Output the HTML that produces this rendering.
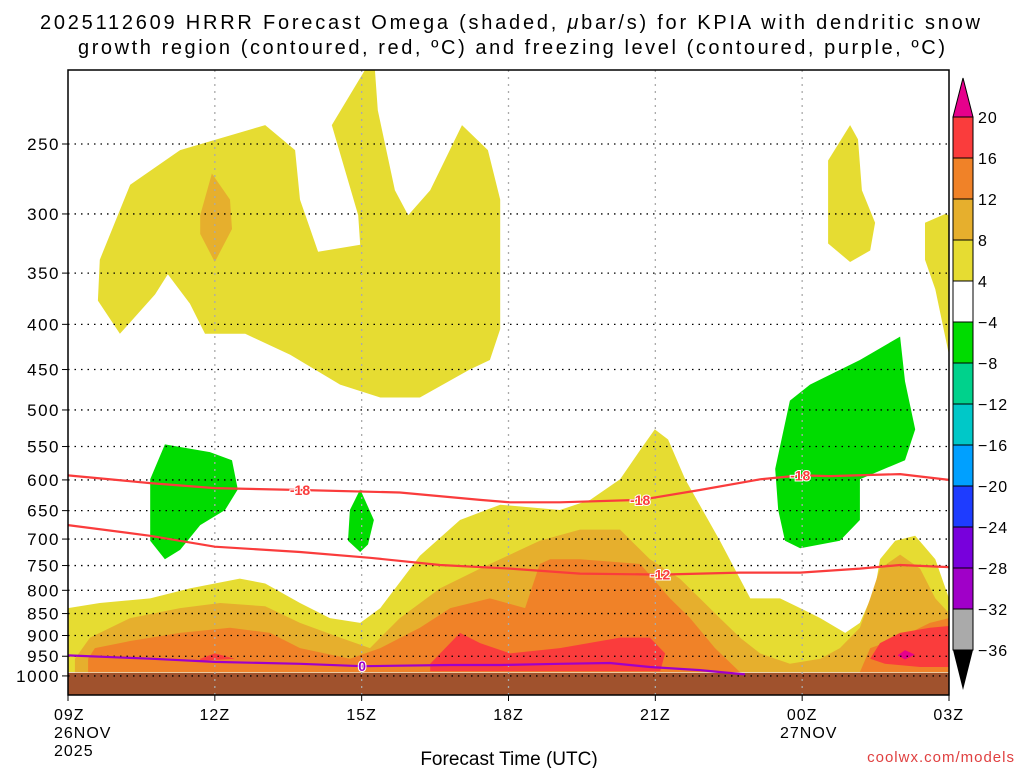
<!DOCTYPE html>
<html><head><meta charset="utf-8"><style>
body{margin:0;background:#fff;width:1024px;height:768px;overflow:hidden;font-family:"Liberation Sans",sans-serif}
svg{position:absolute;left:0;top:0}
</style></head><body>
<svg id="c" width="1024" height="768">
<text x="40" y="29" font-size="20" textLength="940" lengthAdjust="spacing">2025112609 HRRR Forecast Omega (shaded, <tspan font-style="italic">μ</tspan>bar/s) for KPIA with dendritic snow</text>
<text x="78" y="54" font-size="20" textLength="867" lengthAdjust="spacing">growth region (contoured, red, ºC) and freezing level (contoured, purple, ºC)</text>
<g id="shade"></g><g id="grid"></g><g id="lines"></g><g id="axes"></g><g id="cbar"></g>
<text x="509" y="765" text-anchor="middle" font-size="19">Forecast Time (UTC)</text>
<text x="1015" y="762" text-anchor="end" font-size="15" fill="#e04040" letter-spacing="1">coolwx.com/models</text>
</svg>
<script>
// axes: hours after 09Z 26NOV, pressure hPa (log)
const xTickLabels=["09Z","12Z","15Z","18Z","21Z","00Z","03Z"];
const xTickHours=[0,3,6,9,12,15,18];
const yTicks=[250,300,350,400,450,500,550,600,650,700,750,800,850,900,950,1000];
const cbarLabels=["20","16","12","8","4","\u22124","\u22128","\u221212","\u221216","\u221220","\u221224","\u221228","\u221232","\u221236"];
const cbarColors=["#fa3c3c","#f08228","#e6af2d","#e6dc32","#ffffff","#00dc00","#00d28c","#00c8c8","#00a0ff","#1e3cff","#7800dc","#a000c8","#aaaaaa"];
// shaded regions [hour, pressure]
const yellowUpper=[[0.61,376],[0.65,338],[1.27,278],[2.29,254],[4.03,238],[4.64,254],[4.74,289],[5.11,331],[5.97,325],[5.93,301],[5.39,238],[6.07,206],[6.27,206],[6.33,229],[6.68,282],[6.95,301],[7.40,282],[8.05,238],[8.58,254],[8.83,289],[8.83,405],[8.62,439],[8.21,450],[7.19,484],[6.38,484],[5.56,468],[4.54,433],[3.62,410],[2.80,410],[2.49,379],[2.04,351],[1.78,370],[1.06,410]];
const orangeUpper=[[2.70,301],[2.94,270],[3.31,289],[3.35,312],[3.00,340],[2.70,316]];
const yellowTR=[[15.53,261],[15.98,238],[16.14,247],[16.22,282],[16.49,307],[16.39,330],[15.98,340],[15.53,324]];
const yellowRE=[[17.51,307],[17.92,300],[18,301],[18,433],[17.72,365],[17.51,338]];
const greenL=[[1.68,599],[1.98,547],[2.90,558],[3.35,570],[3.47,615],[3.21,649],[2.70,675],[2.29,720],[1.98,738],[1.68,703]];
const greenM=[[5.97,615],[6.25,666],[6.13,710],[5.97,724],[5.72,703],[5.76,649]];
const greenR=[[14.45,583],[14.75,488],[15.16,468],[16.18,439],[17.00,413],[17.10,464],[17.31,526],[17.10,570],[16.18,599],[16.18,666],[15.77,703],[14.96,717],[14.65,703],[14.51,649]];
const yellowLow=[[0,838],[0.65,827],[1.68,817],[2.49,796],[3.51,776],[4.03,786],[4.74,827],[5.35,860],[5.97,871],[6.38,838],[7.19,731],[8.01,666],[8.83,640],[10.05,649],[10.67,632],[11.28,599],[11.69,555],[11.99,526],[12.26,540],[12.61,599],[13.32,703],[13.94,817],[14.55,817],[14.96,838],[15.37,860],[15.88,894],[16.18,871],[16.49,796],[16.59,738],[16.90,703],[17.31,694],[17.72,738],[18,817],[18,990],[0,990]];
const lightOrangeLow=[[0.14,956],[0.45,905],[1.27,860],[2.29,838],[3.11,827],[4.03,834],[4.74,871],[5.56,905],[6.17,930],[6.78,860],[7.60,796],[8.42,756],[9.24,720],[9.64,703],[10.46,683],[11.28,683],[11.89,738],[12.50,776],[12.91,817],[13.32,860],[13.73,905],[14.14,943],[14.75,969],[15.37,956],[15.77,930],[16.18,882],[16.39,817],[16.59,756],[17.00,729],[17.41,756],[17.72,817],[18,849],[18,990],[0.14,990]];
const orangeLow=[[0.41,956],[0.55,930],[1.27,913],[2.29,894],[3.31,882],[4.13,894],[4.74,930],[5.76,956],[6.38,930],[7.19,882],[7.81,838],[8.62,817],[9.34,838],[9.64,747],[9.85,738],[10.46,738],[11.69,747],[12.30,817],[12.71,860],[13.22,930],[13.73,990],[0.41,990]];
const orangeLowR=[[16.18,990],[16.39,930],[17.00,905],[17.61,871],[18,860],[18,990]];
const redLowA=[[2.70,956],[3.00,943],[3.41,956],[2.70,961]];
const redLowB=[[7.40,969],[8.01,894],[8.42,918],[9.03,943],[10.05,930],[11.28,905],[11.89,905],[12.20,943],[12.10,988],[7.40,988]];
const redLowR=[[16.39,956],[16.59,918],[17.00,894],[17.61,882],[18,878],[18,977],[17.41,977],[16.69,969]];
const magentaR=[[16.95,948],[17.10,935],[17.30,946],[17.10,958]];
// isotherms
const isoM18Hours=[0,1.68,3.00,4.74,6.78,8.42,9.03,10.05,11.69,12.91,14.14,14.96,15.57,17.00,18];
const isoM18Pres=[593,605,613,616,620,632,636,636,632,616,599,593,594,591,600];
const isoM12Hours=[0,1.68,3.00,4.74,6.17,7.60,9.03,10.46,12.10,13.73,14.96,16.18,17.00,18];
const isoM12Pres=[675,694,714,724,735,749,756,766,768,764,764,756,749,753];
const iso0Hours=[0,1.68,3.00,4.74,6.01,7.81,8.83,10.05,11.07,11.89,12.91,13.83];
const iso0Pres=[948,956,964,969,975,972,972,969,967,977,985,996];
const groundTop=992;

const X0=68,X1=949,YREF=144,PREF=250,K=383.7;
const xs=h=>X0+(X1-X0)*h/18;
const ys=p=>YREF+K*Math.log(p/PREF);
const NS="http://www.w3.org/2000/svg";
function mk(tag,attrs,parent){const e=document.createElementNS(NS,tag);for(const k in attrs)e.setAttribute(k,attrs[k]);parent.appendChild(e);return e;}
const shade=document.getElementById('shade');
function poly(pts,fill,name){const e=mk('polygon',{points:pts.map(q=>xs(q[0]).toFixed(1)+','+ys(q[1]).toFixed(1)).join(' '),fill:fill},shade);

}
poly(yellowUpper,"#e6dc32","omega-4-8-upper");
poly(orangeUpper,"#e6af2d","omega-8-12-upper");
poly(yellowTR,"#e6dc32","omega-4-8-top-right");
poly(yellowRE,"#e6dc32","omega-4-8-right-edge");
poly(yellowLow,"#e6dc32","omega-4-8-lower");
poly(lightOrangeLow,"#e6af2d","omega-8-12-lower");
poly(orangeLow,"#f08228","omega-12-16-lower");
poly(orangeLowR,"#f08228","omega-12-16-right");
poly(redLowA,"#fa3c3c","omega-16-20-a");
poly(redLowB,"#fa3c3c","omega-16-20-b");
poly(redLowR,"#fa3c3c","omega-16-20-right");
poly(magentaR,"#e6008c","omega-gt20-right");
poly(greenL,"#00dc00","omega-neg-left");
poly(greenM,"#00dc00","omega-neg-middle");
poly(greenR,"#00dc00","omega-neg-right");
const g=mk('rect',{x:X0,y:ys(groundTop),width:X1-X0,height:695-ys(groundTop),fill:"#a0522d"},shade);


// grid
const grid=document.getElementById('grid');
yTicks.forEach(p=>{const l=mk('line',{x1:X0,x2:X1,y1:ys(p),y2:ys(p),stroke:"#000","stroke-width":1.3,"stroke-dasharray":"1.5 5"},grid);

});
xTickHours.slice(1,6).forEach(h=>{const l=mk('line',{x1:xs(h),x2:xs(h),y1:70,y2:695,stroke:"#aaa","stroke-width":1.3,"stroke-dasharray":"2 5"},grid);

});
// isotherms
const lines=document.getElementById('lines');
function iso(hs,ps,col,name,labels,txt){const d=hs.map((h,i)=>(i?'L':'M')+xs(h).toFixed(1)+' '+ys(ps[i]).toFixed(1)).join(' ');
const e=mk('path',{d:d,fill:"none",stroke:col,"stroke-width":2.2},lines);


labels.forEach(i=>{const x=xs(hs[i]),y=ys(ps[i]);
const t=mk('text',{x:x,y:y+5,"text-anchor":"middle","font-size":14,"font-weight":"bold",fill:col,stroke:"#fff","stroke-width":2,"paint-order":"stroke"},lines);t.textContent=txt;

});}
iso(isoM18Hours,isoM18Pres,"#fa3c3c","isotherm-minus18",[3,8,11],"-18");
iso(isoM12Hours,isoM12Pres,"#fa3c3c","isotherm-minus12",[8],"-12");
iso(iso0Hours,iso0Pres,"#a000c8","freezing-level-0c",[4],"0");
// axes
const ax=document.getElementById('axes');
const fr=mk('rect',{x:X0,y:70,width:X1-X0,height:625,fill:"none",stroke:"#000","stroke-width":1.5},ax);


yTicks.forEach(p=>{mk('line',{x1:X0-6,x2:X0,y1:ys(p),y2:ys(p),stroke:"#000"},ax);
const t=mk('text',{x:60,y:ys(p)+6,"text-anchor":"end","font-size":17,"letter-spacing":"1.5"},ax);t.textContent=p;

});
xTickHours.forEach((h,i)=>{mk('line',{x1:xs(h),x2:xs(h),y1:695,y2:701,stroke:"#000"},ax);
const t=mk('text',{x:xs(h),y:720,"text-anchor":i==0?"start":(i==6?"end":"middle"),"font-size":16,"letter-spacing":"1"},ax);t.textContent=xTickLabels[i];
if(i==0)t.setAttribute('x',xs(h)-14);
if(i==6)t.setAttribute('x',xs(h)+15);

});
[["26NOV",54,738],["2025",54,756],["27NOV",780,738]].forEach(a=>{const t=mk('text',{x:a[1],y:a[2],"font-size":16,"letter-spacing":"1"},ax);t.textContent=a[0];

});
// colorbar
const cb=document.getElementById('cbar');
const CX=953,CW=20,CT=117,CS=41;
mk('polygon',{points:`${CX},${CT} ${CX+CW},${CT} ${CX+CW/2},78`,fill:"#e6008c",stroke:"#000"},cb);
cbarColors.forEach((c,i)=>{const r=mk('rect',{x:CX,y:CT+i*CS,width:CW,height:CS,fill:c,stroke:"#000","stroke-width":1},cb);

});
const yb=CT+cbarColors.length*CS;
mk('polygon',{points:`${CX},${yb} ${CX+CW},${yb} ${CX+CW/2},690`,fill:"#000"},cb);
cbarLabels.forEach((s,i)=>{const t=mk('text',{x:978,y:CT+i*CS+6,"font-size":16,"letter-spacing":"1"},cb);t.textContent=s;

});
</script>
</body></html>
